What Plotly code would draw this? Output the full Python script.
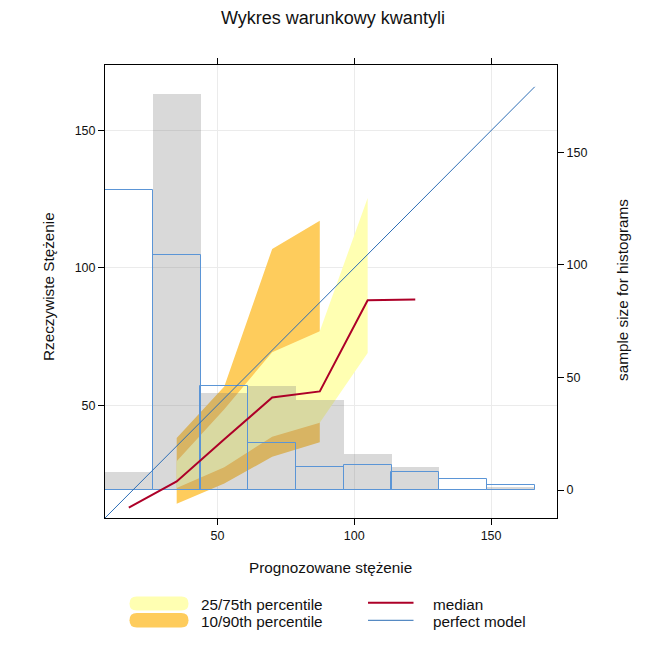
import plotly.graph_objects as go

# ---------------- data ----------------
bin_edges = [8.9, 26.35, 43.8, 61.25, 78.7, 96.15, 113.6, 131.05, 148.5, 165.95]
bin_mids = [17.6, 35.1, 52.5, 70.0, 87.4, 104.9, 122.3, 139.8, 157.2]
obs_counts = [8, 176, 43, 46, 40, 16, 10.2, 0, 1.5]        # grey histogram (observed)
pred_counts = [133, 104.3, 46.1, 20.7, 10.2, 11, 7.9, 4.8, 2.1]  # blue histogram (predicted)

median_x = [17.6, 35.1, 52.5, 70.0, 87.4, 104.9, 122.3]
median_y = [12.7, 22.2, 37.6, 52.8, 55.0, 88.2, 88.5]

q2575_x = [35.1, 52.5, 70.0, 87.4, 104.9]
q25 = [19.8, 27.4, 38.5, 43.6, 69.0]
q75 = [29.6, 48.5, 69.3, 76.9, 125.5]

q1090_x = [35.1, 52.5, 70.0, 87.4]
q10 = [14.1, 21.5, 31.2, 36.5]
q90 = [38.0, 56.8, 106.9, 117.2]

perfect = [8.9, 165.95]

title = "Wykres warunkowy kwantyli"
x_title = "Prognozowane stężenie"
y_title = "Rzeczywiste Stężenie"
y2_title = "sample size for histograms"
legend_labels = ["25/75th percentile", "10/90th percentile", "median", "perfect model"]

# ---------------- styling ----------------
FONT = "Liberation Sans, Arial, sans-serif"
YELLOW = "#FFFFB2"
ORANGE = "#FECC5C"
RED = "#AD0028"
BLUE_LINE = "#2C6DB5"
BLUE_HIST = "#5B95D6"
GREY = "rgba(120,120,120,0.28)"

# page body has an 8px margin, so the figure is shrunk/shifted by 8px
OFF = 8
W, H = 667 - OFF, 645 - OFF
PL, PR, PT, PB = 105, 557, 65, 518          # plot area in reference pixels
L, T = PL - OFF, PT - OFF
pw, ph = PR - PL, PB - PT
R, B = W - L - pw, H - T - ph


def px(x):
    return (x - PL) / pw


def py(y):
    return (PB - y) / ph


fig = go.Figure()

# 10/90 band
fig.add_trace(go.Scatter(
    x=q1090_x + q1090_x[::-1], y=q90 + q10[::-1], fill="toself",
    fillcolor=ORANGE, line=dict(width=0), mode="lines", hoverinfo="skip",
    showlegend=False, xaxis="x", yaxis="y"))
# 25/75 band
fig.add_trace(go.Scatter(
    x=q2575_x + q2575_x[::-1], y=q75 + q25[::-1], fill="toself",
    fillcolor=YELLOW, line=dict(width=0), mode="lines", hoverinfo="skip",
    showlegend=False, xaxis="x", yaxis="y"))

bw = bin_edges[1] - bin_edges[0]
# grey histogram (observed)
fig.add_trace(go.Bar(
    x=bin_mids, y=obs_counts, width=bw, marker=dict(color=GREY, line=dict(width=0)),
    showlegend=False, xaxis="x", yaxis="y2"))
# blue histogram (predicted)
fig.add_trace(go.Bar(
    x=bin_mids, y=pred_counts, width=bw,
    marker=dict(color="rgba(0,0,0,0)", line=dict(color=BLUE_HIST, width=1)),
    showlegend=False, xaxis="x", yaxis="y2"))

# perfect model
fig.add_trace(go.Scatter(
    x=perfect, y=perfect, mode="lines", line=dict(color=BLUE_LINE, width=1),
    showlegend=False, xaxis="x", yaxis="y3"))
# median
fig.add_trace(go.Scatter(
    x=median_x, y=median_y, mode="lines", line=dict(color=RED, width=2),
    showlegend=False, xaxis="x", yaxis="y3"))

xr = [8.9, 174.1]
yr = [8.9, 173.9]

axis_common = dict(
    showline=True, linecolor="black", linewidth=1, ticks="outside", ticklen=6,
    tickcolor="black", tickfont=dict(family=FONT, size=12.5, color="#111"),
    zeroline=False)

fig.update_layout(
    width=W, height=H, margin=dict(l=L, r=R, t=T, b=B),
    paper_bgcolor="white", plot_bgcolor="white", barmode="overlay", bargap=0,
    showlegend=False,
    xaxis=dict(range=xr, tickvals=[50, 100, 150], mirror="ticks", showgrid=True,
               gridcolor="#EBEBEB", gridwidth=1, **axis_common),
    yaxis=dict(range=yr, tickvals=[50, 100, 150], mirror=True, showgrid=True,
               gridcolor="#EBEBEB", gridwidth=1, **axis_common),
    yaxis2=dict(range=[-12.4, 188.7], tickvals=[0, 50, 100, 150], overlaying="y",
                side="right", showgrid=False, showline=False, ticks="outside",
                ticklen=6, tickcolor="black", zeroline=False,
                tickfont=dict(family=FONT, size=12.5, color="#111")),
    yaxis3=dict(range=yr, overlaying="y", visible=False),
)

ann = []
tf = dict(family=FONT, size=15.3, color="#111")
ann.append(dict(text=title, x=px(333), y=py(18), xref="paper", yref="paper",
                showarrow=False, xanchor="center", yanchor="middle",
                font=dict(family=FONT, size=18, color="#111")))
ann.append(dict(text=x_title, x=px(330), y=py(567), xref="paper", yref="paper",
                showarrow=False, xanchor="center", yanchor="middle", font=tf))
ann.append(dict(text=y_title, x=px(48), y=py(287), xref="paper", yref="paper",
                showarrow=False, xanchor="center", yanchor="middle", textangle=-90, font=tf))
ann.append(dict(text=y2_title, x=px(622), y=py(290), xref="paper", yref="paper",
                showarrow=False, xanchor="center", yanchor="middle", textangle=-90, font=tf))

# legend (manual)
shapes = []


def pill(x0, x1, y0, y1, color):
    r = (y1 - y0) / 2
    ym = (y0 + y1) / 2
    pts = [
        ("M", (x0 + r, y0)), ("L", (x1 - r, y0)), ("Q", (x1, y0), (x1, ym)),
        ("Q", (x1, y1), (x1 - r, y1)), ("L", (x0 + r, y1)), ("Q", (x0, y1), (x0, ym)),
        ("Q", (x0, y0), (x0 + r, y0)),
    ]
    s = ""
    for p in pts:
        s += p[0] + " " + " ".join(f"{px(a):.5f},{py(b):.5f}" for a, b in p[1:]) + " "
    s += "Z"
    return dict(type="path", path=s, xref="paper", yref="paper",
                fillcolor=color, line=dict(width=0), layer="above")


shapes.append(pill(129.5, 188.5, 596.5, 610.5, YELLOW))
shapes.append(pill(129.5, 188.5, 613, 627.5, ORANGE))
shapes.append(dict(type="line", x0=px(368), x1=px(413.5), y0=py(602.7), y1=py(602.7),
                   xref="paper", yref="paper", line=dict(color=RED, width=2)))
shapes.append(dict(type="line", x0=px(368), x1=px(413.5), y0=py(620.3), y1=py(620.3),
                   xref="paper", yref="paper", line=dict(color=BLUE_LINE, width=1)))

for lbl, xx, yy in [(legend_labels[0], 199, 604), (legend_labels[1], 199, 621.5),
                    (legend_labels[2], 430.5, 604), (legend_labels[3], 430.5, 621.5)]:
    ann.append(dict(text=lbl, x=px(xx), y=py(yy), xref="paper", yref="paper",
                    showarrow=False, xanchor="left", yanchor="middle", font=tf))

fig.update_layout(annotations=ann, shapes=shapes)
fig.write_html("out.html")
